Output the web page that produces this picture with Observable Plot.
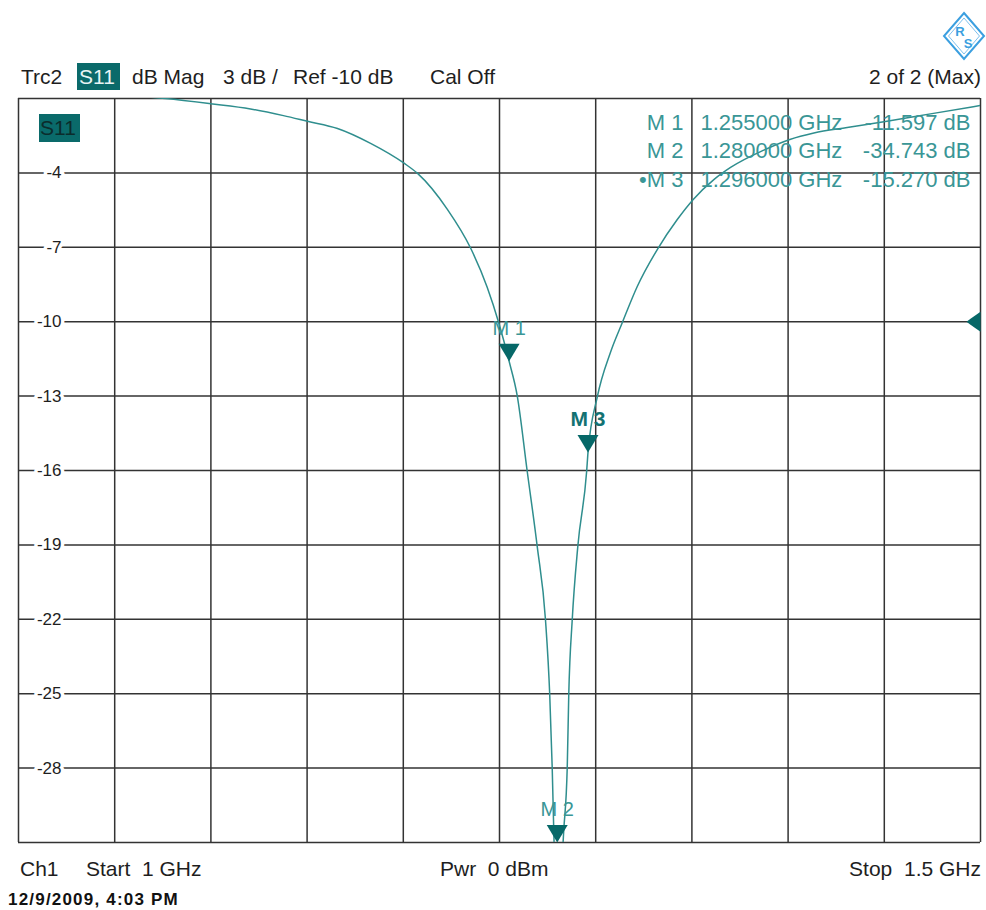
<!DOCTYPE html>
<html>
<head>
<meta charset="utf-8">
<script src="https://cdn.jsdelivr.net/npm/d3@7"></script>
<script src="https://cdn.jsdelivr.net/npm/@observablehq/plot@0.6"></script>
<style>
  body { margin: 0; background: #fff; }
  #page { position: relative; width: 986px; height: 910px; overflow: hidden;
          font-family: "Liberation Sans", Arial, sans-serif; color: #1e1e1e; background: #fff; }
  .t { position: absolute; font-size: 21px; line-height: 21px; white-space: pre; }
  .box { position: absolute; background: #0a6a6a; }
  #chart { position: absolute; left: 0; top: 90px; }
  #logo { position: absolute; left: 940px; top: 10px; }
</style>
</head>
<body>
<div id="page">
  <svg id="logo" width="46" height="52" viewBox="0 0 46 52">
    <polygon points="24,3 44,26 24,49 4,26" fill="none" stroke="#3b9fe0" stroke-width="2"/>
    <polygon points="24,8 39.5,26 24,44 8.5,26" fill="none" stroke="#7cc0ee" stroke-width="1"/>
    <text x="20" y="26" font-size="13" font-weight="bold" fill="#3b9fe0" text-anchor="middle" font-family="Liberation Sans, Arial">R</text>
    <text x="28" y="38" font-size="13" font-weight="bold" fill="#3b9fe0" text-anchor="middle" font-family="Liberation Sans, Arial">S</text>
  </svg>

  <div class="t" style="left:21px;top:65.5px;">Trc2</div>
  <div class="box" style="left:77px;top:63px;width:43px;height:28px;"></div>
  <div class="t" style="left:79px;top:65.5px;color:#e8f4f4;">S11</div>
  <div class="t" style="left:132px;top:65.5px;">dB Mag</div>
  <div class="t" style="left:223px;top:65.5px;">3 dB /</div>
  <div class="t" style="left:293px;top:65.5px;">Ref -10 dB</div>
  <div class="t" style="left:430px;top:65.5px;">Cal Off</div>
  <div class="t" style="right:5px;top:65.5px;">2 of 2 (Max)</div>

  <div id="chart"></div>

  <div class="box" style="left:39px;top:114px;width:41px;height:28px;"></div>
  <div class="t" style="left:40px;top:117px;color:#0b2c2c;">S11</div>

  <div class="t" style="left:20px;top:858px;">Ch1</div>
  <div class="t" style="left:86px;top:858px;">Start  1 GHz</div>
  <div class="t" style="left:440px;top:858px;">Pwr  0 dBm</div>
  <div class="t" style="right:5px;top:858px;">Stop  1.5 GHz</div>
  <div class="t" style="left:8px;top:891px;font-size:17px;line-height:17px;font-weight:bold;letter-spacing:1.2px;color:#111;">12/9/2009, 4:03 PM</div>
</div>

<script>
// ---- data ----
const traceFreqGHz = [1.000, 1.0426, 1.0764, 1.0998, 1.1206, 1.1377, 1.1502, 1.1658, 1.1830,
  1.2006, 1.2074, 1.2230, 1.2349, 1.2436, 1.2496, 1.2550, 1.2592, 1.2644, 1.2696,
  1.2739, 1.2761, 1.2774, 1.2782, 1.2800, 1.2834, 1.2852, 1.2860, 1.2878, 1.2907,
  1.2953, 1.2960, 1.3008, 1.3077, 1.3138, 1.3216, 1.3320, 1.3424, 1.3507, 1.3614,
  1.3701, 1.3874, 1.4009, 1.4134, 1.4307, 1.4506, 1.4740, 1.5000];
const traceDb = [-0.40, -0.80, -1.00, -1.21, -1.42, -1.69, -1.92, -2.21, -2.81,
  -3.62, -4.02, -5.48, -7.02, -8.61, -10.04, -11.597, -12.98, -16.03, -19.06,
  -22.02, -25.03, -28.00, -30.50, -34.743, -30.50, -28.00, -25.03, -22.02, -19.06,
  -16.03, -15.270, -13.04, -11.23, -10.04, -8.58, -7.09, -5.88, -5.07, -4.27,
  -3.78, -3.08, -2.65, -2.39, -2.17, -1.93, -1.62, -1.28];

const markerNames = ["M 1", "M 2", "M 3"];
const markerFreqGHz = [1.255, 1.280, 1.296];
const markerDb = [-11.597, -34.743, -15.270];
const activeMarker = "M 3";

const xDomain = [1.0, 1.5];
const yDomain = [-31, -1];
const xGrid = [1.00, 1.05, 1.10, 1.15, 1.20, 1.25, 1.30, 1.35, 1.40, 1.45, 1.50];
const yGrid = [-1, -4, -7, -10, -13, -16, -19, -22, -25, -28, -31];
const yTickLabels = [-4, -7, -10, -13, -16, -19, -22, -25, -28];
const refLevel = -10;

// ---- build tables ----
const trace = traceFreqGHz.map((f, i) => ({f, db: traceDb[i]}));
const markers = markerNames.map((name, i) => ({
  name, f: markerFreqGHz[i], db: markerDb[i], active: name === activeMarker
}));

const teal = "#2f8e8e";
const markFill = "#066868";
const tableColor = "#3a9696";

// downward triangle with its tip on the point
const downTriangle = { draw(ctx) { ctx.moveTo(0, 0); ctx.lineTo(-10.5, -17.5); ctx.lineTo(10.5, -17.5); ctx.closePath(); } };
// left-pointing triangle with its back on the point
const leftTriangle = { draw(ctx) { ctx.moveTo(0, -10); ctx.lineTo(-10, -3); ctx.lineTo(-14, 0); ctx.lineTo(-10, 3); ctx.lineTo(0, 10); ctx.closePath(); } };

const clampY = d => Math.max(yDomain[0], Math.min(yDomain[1], d.db));

const tableMarks = [];
markers.forEach((m, i) => {
  const dy = 24 + i * 28.5;
  const common = {frameAnchor: "top-right", lineAnchor: "middle", dy, fill: tableColor, fontSize: 22};
  tableMarks.push(
    Plot.text([m], {...common, text: d => (d.active ? "\u2022" : "") + d.name, textAnchor: "end", dx: -297}),
    Plot.text([m], {...common, text: d => d.f.toFixed(6) + " GHz", textAnchor: "start", dx: -280}),
    Plot.text([m], {...common, text: d => d.db.toFixed(3) + " dB", textAnchor: "end", dx: -10})
  );
});

const chart = Plot.plot({
  width: 986,
  height: 760,
  marginTop: 8,
  marginBottom: 8,
  marginLeft: 18,
  marginRight: 6,
  x: {domain: xDomain, axis: null},
  y: {domain: yDomain, axis: null},
  style: {fontFamily: "Liberation Sans, Arial, sans-serif", background: "white", overflow: "visible"},
  marks: [
    Plot.ruleX(xGrid, {stroke: "#333", strokeWidth: 1.5}),
    Plot.ruleY(yGrid, {stroke: "#333", strokeWidth: 1.5}),
    Plot.text(yTickLabels, {y: d => d, text: d => String(d), frameAnchor: "left", lineAnchor: "middle", dx: 43,
      textAnchor: "end", fontSize: 17, fill: "#1e1e1e", stroke: "white", strokeWidth: 7}),
    Plot.line(trace, {x: "f", y: "db", stroke: teal, strokeWidth: 1.5, curve: "monotone-x", clip: true}),
    ...tableMarks,
    Plot.dot(markers, {x: "f", y: clampY, symbol: downTriangle, r: 1, fill: markFill, stroke: "none"}),
    Plot.text(markers.filter(d => !d.active), {x: "f", y: clampY, text: "name", dy: -33,
      fill: tableColor, fontSize: 20}),
    Plot.text(markers.filter(d => d.active), {x: "f", y: clampY, text: "name", dy: -33,
      fill: "#137272", fontSize: 21, fontWeight: "bold"}),
    Plot.dot([refLevel], {x: () => xDomain[1], y: d => d, symbol: leftTriangle, r: 1, fill: markFill, stroke: "none"})
  ]
});
document.getElementById("chart").appendChild(chart);
</script>
</body>
</html>
